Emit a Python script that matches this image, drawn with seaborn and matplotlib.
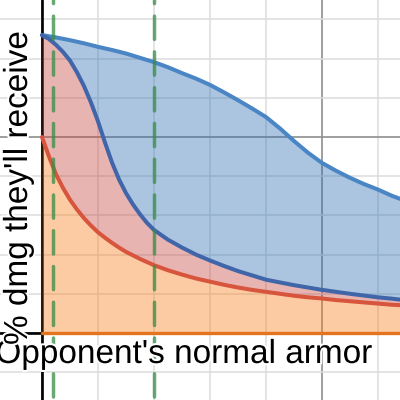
import numpy as np
import seaborn as sns
import matplotlib.patheffects as pe
from matplotlib import pyplot as plt

# === Data ===
armor = [0, 2.5, 5, 7.5, 10, 12.5, 15, 17.5, 20, 22.5, 25, 27.5, 30, 32.5, 35, 37.5, 40,
         45, 50, 55, 60, 65, 70, 75, 80, 85, 90, 95, 100, 105, 110, 115, 120, 125, 128]
dmg_top = [76, 75.7, 75.4, 75.05, 74.7, 74.3, 73.9, 73.45, 73, 72.6, 72.2, 71.75, 71.3, 70.75,
           70.2, 69.65, 69.1,
           67.8, 66.3, 64.9, 63.3, 61.4, 59.4, 57.3, 55.1, 52.2, 49.0, 46.0, 43.4, 41.4, 39.6,
           38.0, 36.6, 35.0, 34.2]
dmg_mid = [76, 75, 73.5, 71.7, 69.5, 66.5, 63, 58.8, 54, 48.6, 43.5, 39.2, 35.7, 32.8, 30.3,
           28.1, 26.3,
           23.8, 21.8, 20, 18.5, 17.1, 15.8, 14.7, 13.6, 12.9, 12.2, 11.6, 11, 10.5, 10, 9.55,
           9.1, 8.75, 8.5]
dmg_low = [50, 45, 40.5, 37, 34, 31.5, 29.3, 27.4, 25.7, 24.3, 23, 21.8, 20.7, 19.8, 18.9,
           18.1, 17.3,
           16, 14.9, 13.9, 13.1, 12.3, 11.6, 11, 10.5, 10, 9.5, 9.1, 8.8, 8.4, 8.1, 7.8, 7.5,
           7.2, 7.1]
marker_armor = [4, 40]

x_major = [0, 100]
x_minor = [20, 40, 60, 80, 120]
y_major = [0, 50]
y_minor = [-10, 10, 20, 30, 40, 60, 70, 80]

sns.set_theme(style="white")
plt.rcParams['font.family'] = ['Liberation Sans', 'DejaVu Sans']

fig = plt.figure(figsize=(4, 4), dpi=100)
ax = fig.add_axes([0, 0, 1, 1])
ax.set_xlim(-15, 127.9)
ax.set_ylim(-17.1, 84.95)
for s in ax.spines.values():
    s.set_visible(False)

# grid like desmos
ax.set_xticks(x_major)
ax.set_xticks(x_minor, minor=True)
ax.set_yticks(y_major)
ax.set_yticks(y_minor, minor=True)
ax.tick_params(which="both", length=0, labelbottom=False, labelleft=False)
ax.grid(True, which="minor", color="#dcdcdc", lw=1.1, zorder=0)
ax.grid(True, which="major", color="#8e8e8e", lw=1.2, zorder=0)
ax.set_axisbelow(True)

# axes
ax.axvline(0, color="black", lw=1.9, zorder=1)
ax.axhline(0, color="black", lw=1.9, zorder=1)

# filled regions
x = np.array(armor)
ax.fill_between(x, 0, dmg_low, color="#fa7e19", alpha=0.4, lw=0, zorder=2)
ax.fill_between(x, dmg_low, dmg_mid, color="#c74440", alpha=0.4, lw=0, zorder=2)
ax.fill_between(x, dmg_mid, dmg_top, color="#2d70b3", alpha=0.4, lw=0, zorder=2)

# curves
sns.lineplot(x=armor, y=dmg_top, color="#4a85c5", lw=2.9, ax=ax, zorder=3,
             solid_capstyle="round", solid_joinstyle="round")
sns.lineplot(x=armor, y=dmg_mid, color="#4065a8", lw=2.9, ax=ax, zorder=3,
             solid_capstyle="round", solid_joinstyle="round")
sns.lineplot(x=armor, y=dmg_low, color="#d8553d", lw=2.9, ax=ax, zorder=3,
             solid_capstyle="round", solid_joinstyle="round")
ax.plot([0, 128], [0, 0], color="#e3731c", lw=2.4, zorder=3)

# dashed markers
for a in marker_armor:
    ax.plot([a, a], [84.95, -17.1], color="#388c46", alpha=0.75, lw=2.5,
            linestyle=(5.8, (6.7, 3.6)), dash_capstyle="round", zorder=4)

# labels with white halo
halo = [pe.withStroke(linewidth=3, foreground="white")]
fig.text(0.46, 0.0925, "Opponent's normal armor", fontsize=24,
         ha="center", va="baseline", color="black", path_effects=halo, zorder=5)
fig.text(0.0675, 0.53, "% dmg they'll receive", fontsize=24, rotation=90,
         rotation_mode="anchor", ha="center", va="baseline", color="black",
         path_effects=halo, zorder=5)

fig.savefig("out.png", dpi=100)
